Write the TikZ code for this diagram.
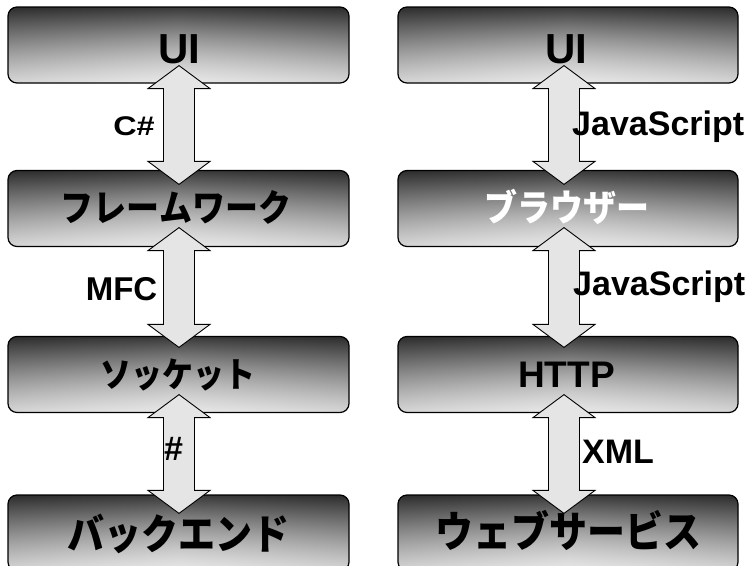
\documentclass[tikz,border=0pt]{standalone}
\usepackage{fontspec}
\usepackage{graphicx}
\setmainfont{Liberation Sans}
\newfontfamily\jp{Noto Sans CJK JP}
\usetikzlibrary{calc}
\definecolor{arrowgray}{RGB}{229,229,229}
\pgfdeclarefunctionalshading{boxshade}{\pgfpoint{0bp}{0bp}}{\pgfpoint{100bp}{100bp}}{}{
  85 div dup 0 lt {pop 0} if dup 1 gt {pop 1} if
  exch 50 sub abs 50 div dup 1 gt {pop 1} if
  2 exch sub exp 1 exch sub dup dup
}
\tikzset{
  box/.style={draw=black, line width=1.2pt, rounded corners=9pt, shade, shading=boxshade,
    minimum width=341pt, minimum height=76pt, inner sep=0pt},
  dbl/.style={draw=black, line width=0.9pt, fill=arrowgray, line join=miter},
  lat/.style={font=\bfseries\fontsize{#1}{#1}\selectfont, inner sep=0pt, anchor=base},
  latw/.style={font=\bfseries\fontsize{#1}{#1}\selectfont, inner sep=0pt, anchor=base west},
  jpt/.style={font=\jp\bfseries\fontsize{#1}{#1}\selectfont, inner sep=0pt, anchor=base},
}
\newcommand\jpx[1]{\scalebox{1}[1.12]{#1}}
\newcommand\dblarrow[2]{%
  \draw[dbl] let \p1=(#1), \p2=(#2) in
    (\x1,\y1) -- ++(31pt,-23pt) -- ++(-15.5pt,0pt) -- (\x1+15.5pt,\y2+23pt)
    -- ++(15.5pt,0pt) -- (\x1,\y2) -- ++(-31pt,23pt) -- ++(15.5pt,0pt)
    -- (\x1-15.5pt,\y1-23pt) -- ++(-15.5pt,0pt) -- cycle;}
\begin{document}
\begin{tikzpicture}[x=1pt,y=-1pt]
\useasboundingbox (0,0) rectangle (755,565);
\clip (0,0) rectangle (755,565);
% boxes, left column
\node[box] (l1) at (178.5,45) {};
\node[box] (l2) at (178.5,208.5) {};
\node[box] (l3) at (178.5,374.5) {};
\node[box] (l4) at (178.5,533) {};
% boxes, right column
\node[box, minimum width=340pt] (r1) at (568,45) {};
\node[box, minimum width=340pt] (r2) at (568,208.5) {};
\node[box, minimum width=340pt] (r3) at (568,374.5) {};
\node[box, minimum width=340pt] (r4) at (568,533) {};
% arrows
\dblarrow{$(l1.south)+(0.5,-18)$}{$(l2.north)+(0.5,14.5)$}
\dblarrow{$(l2.south)+(0.5,-19.5)$}{$(l3.north)+(0.5,11.5)$}
\dblarrow{$(l3.south)+(0.5,-18.5)$}{$(l4.north)+(0.5,19)$}
\dblarrow{$(r1.south)+(-4,-18)$}{$(r2.north)+(-4,14.5)$}
\dblarrow{$(r2.south)+(-4,-19.5)$}{$(r3.north)+(-4,11.5)$}
\dblarrow{$(r3.south)+(-4,-18.5)$}{$(r4.north)+(-4,19)$}
% box texts
\node[lat=42] (tl1) at (179,63) {UI};
\node[jpt=33] (tl2) at (176,221) {\jpx{フレームワーク}};
\node[jpt=31] (tl3) at (178,387) {\jpx{ソッケット}};
\node[jpt=37] (tl4) at (178.5,549) {\jpx{バックエンド}};
\node[lat=42] (tr1) at (566.5,63) {UI};
\node[jpt=33, text=white] (tr2) at (566.5,221) {\jpx{ブラウザー}};
\node[lat=37] (tr3) at (566.5,387) {HTTP};
\node[jpt=38] (tr4) at (568.5,547) {\jpx{ウェブサービス}};
% connector labels
\node[lat=27] (c1) at (134,135) {\scalebox{1.2}[1]{C\#}};
\node[lat=33] (c2) at (121.5,300) {MFC};
\node[lat=34] (c3) at (173.5,460) {\#};
\node[latw=34] (d1) at (572,135) {JavaScript};
\node[latw=34] (d2) at (573,295) {JavaScript};
\node[latw=34] (d3) at (582,463) {XML};
\end{tikzpicture}
\end{document}
